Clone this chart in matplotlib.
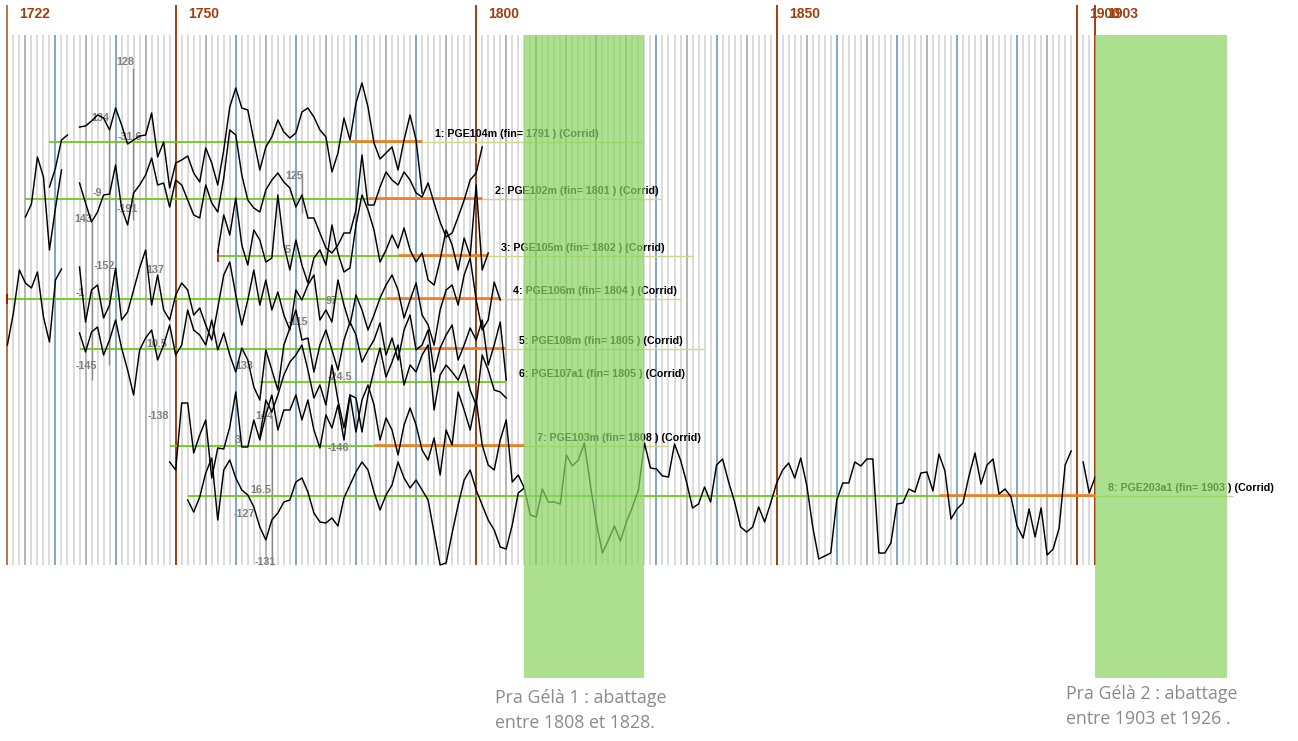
import numpy as np
import matplotlib
matplotlib.use("Agg")
import matplotlib.pyplot as plt
from matplotlib.patches import Rectangle

nan = np.nan

# ring-width series (deviation from each series' baseline), one value per year
names = ["PGE104m", "PGE102m", "PGE105m", "PGE106m", "PGE108m", "PGE107a1", "PGE103m", "PGE203a1"]
starts = [1729, 1725, 1757, 1722, 1734, 1764, 1749, 1752]
ends = [1791, 1801, 1802, 1804, 1805, 1805, 1808, 1903]
levels = [599, 542, 485, 442, 392, 359, 295, 245]
overlap_from = [1779, 1782, 1787, 1785, 1790, None, 1783, 1877]

s1 = [-45, -26, 2, 7, nan, 15, 16, 21, 27, 24, 12, 34, 17, -2, 2, 6, 7, 29, -15, 0,
      -46, -21, -18, -14, -31, -40, -6, -21, -43, -8, 35, 54, 34, 32, 2, -28, -5, 5, 22, 10,
      4, 9, 30, 34, 25, 12, 5, -30, -11, 24, 2, 39, 59, 35, -1, -17, -11, -5, -28, 2,
      27, 2, -51]
s2 = [-18, -5, 42, 22, -51, -9, 29, nan, nan, 16,
      -4, -23, -13, 4, 5, 34, -9, -26, 6, 14,
      24, 41, 14, 16, -8, 19, 14, -1, -16, -19,
      14, -4, -13, 21, 69, 64, 24, -1, -9, -13,
      9, 19, 26, 17, 11, -8, 4, -19, -19, -34,
      -49, -54, -46, -34, -34, -11, 44, -6, -6, 12,
      27, 19, 14, 27, 19, 6, 2, 16, -4, -23,
      -38, -34, -18, -1, 19, 26, 52]
s3 = [4, 41, 21, 58, 11, -9, 26, 16, -6, -2,
      61, 11, -14, 16, -9, -27, -2, 6, -9, 31,
      3, -16, -12, 31, 61, 46, 26, -6, 6, 21,
      8, 28, 6, -6, 3, -24, -29, -4, 26, 11,
      -14, 18, 0, 71, -14, 3]
s4 = [-46, -14, 29, 16, 11, 27, -18, -43, 19, 30,
      nan, nan,
      32, -23, 9, 14, -19, -6, 31, -21, -13, 9,
      31, 49, -6, 24, -11, -21, 4, 16, 9, -16,
      -9, -26, -41, -9, 24, 37, 4, -26, -1, 29,
      -6, 19, -11, 7, -16, -31, 9, -1, 14, 24,
      -21, -11, -23, 19, -6, -26, 4, -11, -31, -16,
      1, 14, 24, 9, -19, -1, 16, -16, -26, -46,
      -11, 9, 14, -6, 24, 41, -1, -31, -21, 17, -1]
s5 = [16, -3, 17, 22, -6, 9, 29, 1, -21, -46,
      -1, 11, 19, -11, 4, 24, -6, 4, 39, 19,
      14, 4, 29, -1, 16, -6, -23, 1, -11, -38,
      -51, -1, -21, -41, 4, 21, 39, 9, 11, -23,
      4, 19, -1, -21, 9, 27, 14, -13, -1, 9,
      26, -6, 11, -11, 19, 34, -1, 4, 19, -23,
      1, 14, 24, -11, 4, 21, 9, 29, -16, 4, 27, -31]
s6 = [-55, -18, -30, -13, 7, 20, 27, 37, 12, -16,
      -3, -23, 17, -18, -46, -13, -16, -50, -13, 12,
      34, 5, 20, 37, -3, 17, 10, 27, 37, -28,
      7, 17, 10, 2, 17, -8, -23, 27, 12, -8,
      -10, -16]
s7 = [-16, -24, 43, 43, -7, 11, 26, -32, -2, -3,
      19, 54, -1, -1, 26, 6, 31, 51, 16, 36,
      36, 51, 26, 46, 16, -2, 31, 18, 41, 6,
      51, 14, 46, 61, 41, 6, 28, 16, -9, 21,
      38, 21, -4, -14, 8, -29, 16, 1, 54, 36,
      16, 46, 1, -19, -24, 6, 26, -36, -29, -42]
s8 = [-4, -16, -1, 23, 38, -24, 26, 36, 18, 6,
      1, -11, -31, -44, -24, -17, -6, -4, 14, 18,
      4, -17, -26, -27, -22, -30, -2, 11, 24, 34,
      26, 4, -14, 1, 11, 34, 18, 8, 16, 6,
      -4, -37, -69, -67, -37, -9, 16, 26, 6, -9,
      -24, -34, -51, -53, -29, 3,
      8, -19, -21, 7, -6, -6, -8, 41, 30, 36,
      53, 11, -27, -57, -44, -30, -45, -26, -11, 6,
      53, 28, 27, 20, 19, 52, 36, 14, -12, -8,
      9, -6, 31, 37, 14, -6, -31, -36, -31, -11,
      -26, -7, 13, 26, 33, 18, 38, 11, -31, -63,
      -60, -57, -4, 13, 13, 34, 30, 37, 37, -57,
      -57, -47, -8, -7, 7, 4, 23, 24, 5, 42,
      25, -23, -13, -7, 20, 43, 12, 31, 37, 2,
      7, -1, -30, -42, -13, -41, -12, -59, -53, -32,
      31, 45, nan, 34, 3, 19]
series = [s1, s2, s3, s4, s5, s6, s7, s8]

tail_years = [37, 30, 34, 30, 33, 0, 24, 23]

# small annotation numbers: (year, level, text)
notes = [(1741.7, 679, "128"), (1737.4, 623, "134"), (1742.4, 604, "-31.6"),
         (1736.9, 548, "-9"), (1741.9, 532, "-191"), (1734.7, 522, "143"),
         (1769.7, 565, "125"), (1738.1, 475, "-152"), (1746.7, 471, "137"),
         (1768.7, 491, "5"), (1734.1, 448, "-1"), (1776.0, 440, "97"),
         (1770.3, 419, "-115"), (1746.9, 397, "10.5"), (1735.1, 375, "-145"),
         (1761.5, 375, "133"), (1777.3, 364, "-24.5"), (1747.1, 325, "-138"),
         (1764.7, 325, "144"), (1760.4, 301, "3"), (1777.0, 293, "-146"),
         (1764.2, 251, "16.5"), (1761.4, 227, "-127"), (1764.9, 179, "-131")]
pointers = [(1742.9, 673, 521), (1738.9, 611, 376), (1736.0, 519, 361),
            (1771.0, 568, 528), (1766.0, 324, 176)]

year_marks = [1722, 1750, 1800, 1850, 1900, 1903]
fell_spans = [(1808, 1828), (1903, 1925)]
fell_texts = ["Pra Gélà 1 : abattage\nentre 1808 et 1828.",
              "Pra Gélà 2 : abattage\nentre 1903 et 1926 ."]

first_year, last_year = 1722, 1903
grid_top, grid_bot = 706, 176

fig = plt.figure(figsize=(12.98, 7.41), dpi=100)
ax = fig.add_axes([0, 0, 1, 1])
px_year = 6.01
x0 = first_year - 7.4 / px_year
ax.set_xlim(x0, x0 + 1298 / px_year)
ax.set_ylim(0, 741)
ax.axis("off")

# yearly grid
yrs = np.arange(first_year, last_year + 1)
plain = [y for y in yrs if y % 5]
fives = [y for y in yrs if y % 5 == 0 and y % 10]
tens = [y for y in yrs if y % 10 == 0 and y % 50 and y not in year_marks]
ax.vlines(plain, grid_bot, grid_top, color="#d6d6d6", lw=1.2, zorder=1)
ax.vlines(fives, grid_bot, grid_top, color="#a8a8a8", lw=1.2, zorder=1)
ax.vlines(tens, grid_bot, grid_top, color="#7ea6cc", lw=1.4, zorder=1)
for ym in year_marks:
    col = "#b8744e" if ym == 1722 else "#a13d0e"
    ax.vlines(ym, grid_bot, 736, color=col, lw=1.4, zorder=2)
    ax.text(ym + 2, 727, str(ym), color="#a33c0c", fontsize=10, fontweight="bold",
            family="Liberation Sans", ha="left", va="center", zorder=6)

# pointer lines and numbers
for yr, top, bot in pointers:
    ax.vlines(yr, bot, top, color="#8a8a8a", lw=1.0, zorder=3)
for yr, lv, t in notes:
    ax.text(yr, lv, t, color="#808080", fontsize=7.8, fontweight="bold",
            family="Liberation Sans", ha="center", va="center", zorder=4)

# start ticks
ax.vlines(1757, 479, 491, color="#b01010", lw=1.2, zorder=4)
ax.vlines(1722, 437, 447, color="#b01010", lw=1.5, zorder=4)

for i, vals in enumerate(series):
    vals = np.array(vals, dtype=float)
    years = np.arange(starts[i], starts[i] + len(vals))
    lv = levels[i]
    end = ends[i]
    ax.hlines(lv, starts[i], end, color="#6ccc14", lw=1.3, zorder=3)
    if overlap_from[i] is not None:
        ax.hlines(lv + 1.2, overlap_from[i], end, color="#f07d22", lw=1.9, zorder=3)
    if tail_years[i]:
        ax.hlines(lv, end, end + tail_years[i], color="#d2d68c", lw=1.0, zorder=3)
    ax.plot(years, lv + vals, color="black", lw=1.05, zorder=5)
    ax.text(end + 2.1, lv + 8, f"{i + 1}: {names[i]} (fin= {end} ) (Corrid)",
            fontsize=7.7, fontweight="bold", family="Liberation Sans",
            ha="left", va="center", color="black", zorder=6)

# felling windows
for (a, b), txt in zip(fell_spans, fell_texts):
    ax.add_patch(Rectangle((a, 63), b - a, grid_top - 63, facecolor="#8cd462",
                           edgecolor="none", alpha=0.72, zorder=7))
for (a, b), txt, top in zip(fell_spans, fell_texts, [52, 56]):
    ax.text(a - 4.8, top, txt, color="#8a8a8a", fontsize=12.8, family="Open Sans",
            ha="left", va="top", linespacing=1.5, zorder=8)

fig.savefig("out.png", dpi=100, facecolor="white")
